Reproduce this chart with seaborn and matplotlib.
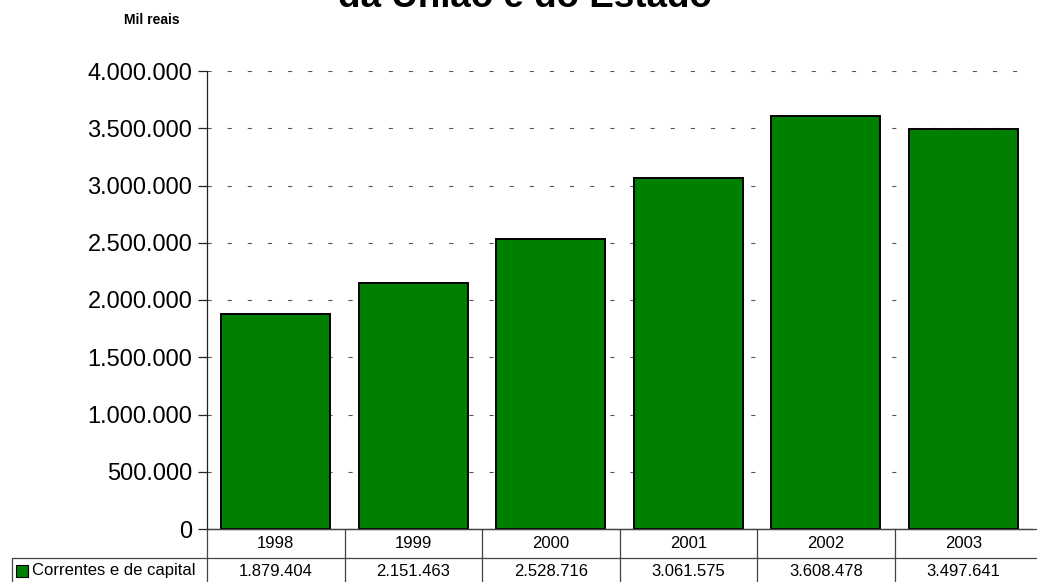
import matplotlib
matplotlib.use("Agg")
import matplotlib.pyplot as plt
import matplotlib.transforms as mtransforms
from matplotlib.patches import Rectangle
from matplotlib.ticker import FuncFormatter, MultipleLocator
import pandas as pd
import seaborn as sns

years = ["1998", "1999", "2000", "2001", "2002", "2003"]
values = [1879404, 2151463, 2528716, 3061575, 3608478, 3497641]
series_name = "Correntes e de capital"
title_text = "da União e do Estado"
unit_text = "Mil reais"

BAR_GREEN = "#008000"
W, H = 1037, 582


def _BR(v):
    return f"{v:,.0f}".replace(",", ".")


def _fx(px):
    return px / W


def _fy(py):
    return 1 - py / H


df = pd.DataFrame({"ano": years, "valor": values})

sns.set_style("white")
plt.rcParams["font.family"] = ["Liberation Sans", "DejaVu Sans"]
plt.rcParams["text.color"] = "black"
plt.rcParams["ytick.labelcolor"] = "black"
plt.rcParams["lines.scale_dashes"] = False

fig = plt.figure(figsize=(W / 100, H / 100), dpi=100)
ax = fig.add_axes([_fx(207), _fy(529), (1032 - 207) / W, (529 - 71) / H])

sns.barplot(
    data=df, x="ano", y="valor", color=BAR_GREEN, saturation=1,
    edgecolor="black", linewidth=1.4, width=0.79, ax=ax,
)

ax.set_xlim(-0.5, len(years) - 0.5)
ax.set_ylim(0, 4000000)
ax.yaxis.set_major_locator(MultipleLocator(500000))
ax.yaxis.set_major_formatter(FuncFormatter(lambda v, p: _BR(v)))
ax.set_axisbelow(True)
ax.yaxis.grid(True, color="#555555", linewidth=0.8, linestyle=(0, (3, 11.5)))
ax.xaxis.grid(False)
ax.set_xlabel("")
ax.set_ylabel("")
ax.tick_params(axis="x", length=0, labelbottom=False)
ax.tick_params(axis="y", direction="out", length=6.5, width=0.9, color="#222222",
               labelsize=17, labelcolor="black", pad=4, left=True)
for s in ["top", "right"]:
    ax.spines[s].set_visible(False)
for s in ["left", "bottom"]:
    ax.spines[s].set_color("#222222")
    ax.spines[s].set_linewidth(0.9)

# table under the chart
line_kw = dict(color="#444444", linewidth=0.9)
fig.add_artist(plt.Line2D([_fx(207), _fx(1037)], [_fy(529), _fy(529)],
                          transform=fig.transFigure, **line_kw))
fig.add_artist(plt.Line2D([_fx(12), _fx(1037)], [_fy(558), _fy(558)],
                          transform=fig.transFigure, **line_kw))
fig.add_artist(plt.Line2D([_fx(12), _fx(12)], [_fy(558), _fy(582)],
                          transform=fig.transFigure, **line_kw))

trans = mtransforms.blended_transform_factory(ax.transData, fig.transFigure)
for k in range(len(years)):
    xb = k - 0.5
    fig.add_artist(plt.Line2D([xb, xb], [_fy(529), _fy(583)], transform=trans, **line_kw))
for i, (yr, v) in enumerate(zip(years, values)):
    fig.text(i, _fy(543.5), yr, transform=trans, ha="center", va="center", fontsize=12)
    fig.text(i, _fy(571), _BR(v), transform=trans, ha="center", va="center", fontsize=12)

fig.add_artist(Rectangle((_fx(16), _fy(577)), 12 / W, 12 / H, transform=fig.transFigure,
                         facecolor=BAR_GREEN, edgecolor="black", linewidth=0.8))
fig.text(_fx(32), _fy(571), series_name, ha="left", va="center", fontsize=12)

fig.text(_fx(152), _fy(24), unit_text, ha="center", va="baseline", fontsize=10, weight="bold")
fig.text(_fx(525), _fy(7), title_text, ha="center", va="baseline", fontsize=26.5, weight="bold")

fig.savefig("out.png", dpi=100)
